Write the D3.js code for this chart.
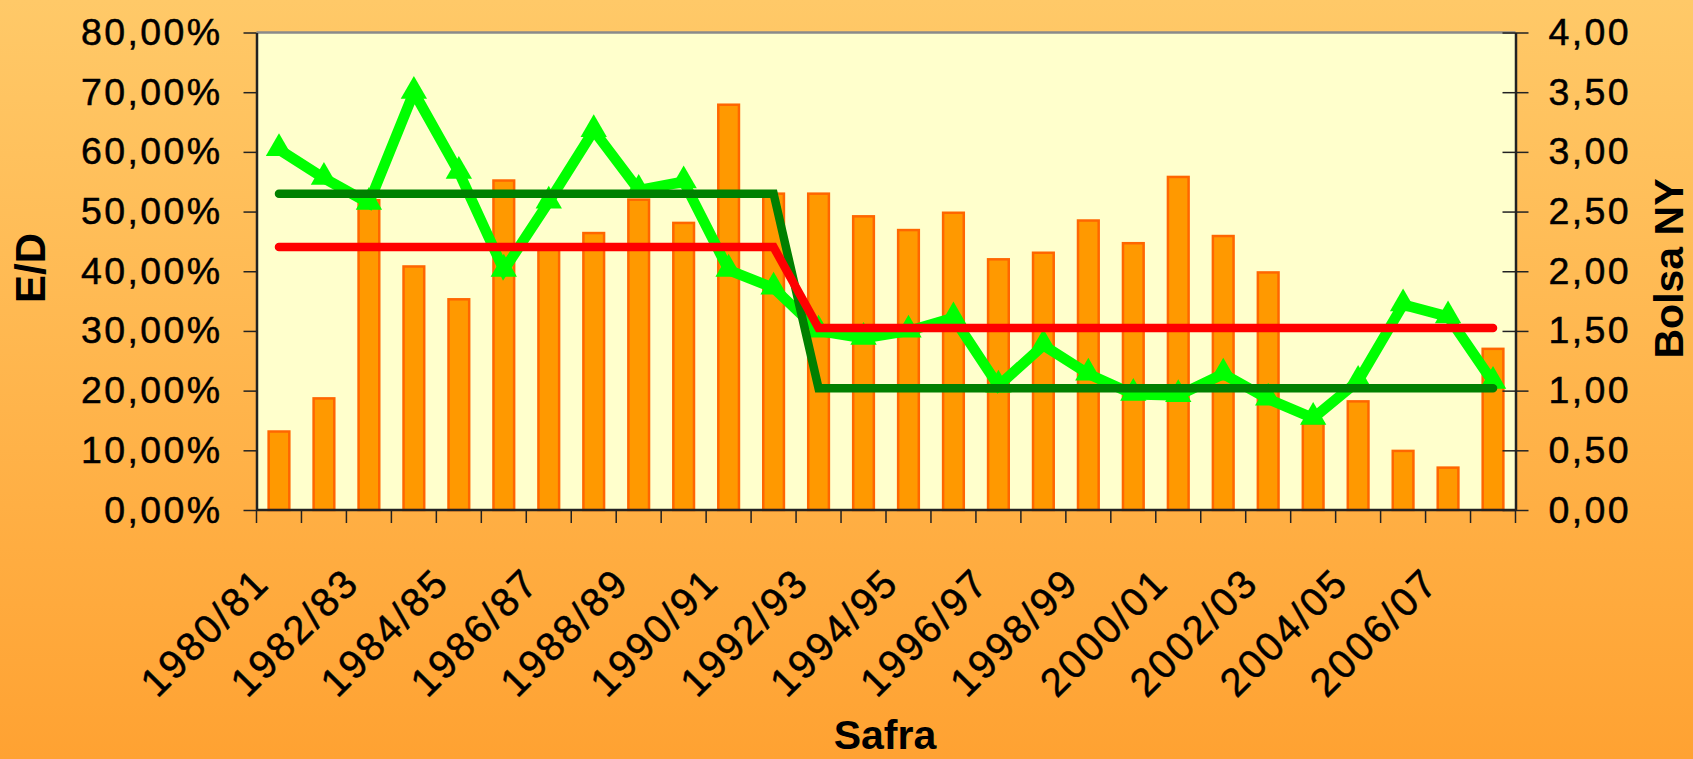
<!DOCTYPE html>
<html>
<head>
<meta charset="utf-8">
<script src="https://cdn.jsdelivr.net/npm/d3@7"></script>
<style>
  html, body { margin: 0; padding: 0; }
  svg text { font-family: "Liberation Sans", Arial, sans-serif; fill: #000; }
</style>
</head>
<body>
<div id="chart"></div>
<script>
// safras (categories)
var categories = ["1980/81","1981/82","1982/83","1983/84","1984/85","1985/86","1986/87",
  "1987/88","1988/89","1989/90","1990/91","1991/92","1992/93","1993/94","1994/95",
  "1995/96","1996/97","1997/98","1998/99","1999/00","2000/01","2001/02","2002/03",
  "2003/04","2004/05","2005/06","2006/07","2007/08"];
// E/D (bars, left axis)
var edValues = [0.1315,0.187,0.519,0.408,0.353,0.552,0.445,0.464,0.52,0.481,0.679,0.53,
  0.53,0.492,0.469,0.498,0.42,0.431,0.485,0.447,0.558,0.459,0.398,0.145,0.182,0.099,0.071,0.27];
// Bolsa NY (green line, right axis)
var bolsaValues = [3.02,2.78,2.57,3.50,2.83,2.01,2.58,3.18,2.68,2.75,2.01,1.86,
  1.50,1.44,1.50,1.61,1.04,1.38,1.14,0.97,0.96,1.14,0.93,0.77,1.08,1.72,1.62,1.07];
// period mean of Bolsa NY (dark green, right axis)
var bolsaMean = [2.65,2.65,2.65,2.65,2.65,2.65,2.65,2.65,2.65,2.65,2.65,2.65,
  1.02,1.02,1.02,1.02,1.02,1.02,1.02,1.02,1.02,1.02,1.02,1.02,1.02,1.02,1.02,1.02];
// period mean of E/D (red, left axis)
var edMean = [0.4405,0.4405,0.4405,0.4405,0.4405,0.4405,0.4405,0.4405,0.4405,0.4405,0.4405,0.4405,
  0.305,0.305,0.305,0.305,0.305,0.305,0.305,0.305,0.305,0.305,0.305,0.305,0.305,0.305,0.305,0.305];
// ticks
var leftTicks = [0,0.1,0.2,0.3,0.4,0.5,0.6,0.7,0.8];
var leftTickLabels = ["0,00%","10,00%","20,00%","30,00%","40,00%","50,00%","60,00%","70,00%","80,00%"];
var rightTicks = [0,0.5,1,1.5,2,2.5,3,3.5,4];
var rightTickLabels = ["0,00","0,50","1,00","1,50","2,00","2,50","3,00","3,50","4,00"];

var W = 1693, H = 759;
var plot = {left: 256.5, right: 1515.5, top: 32.5, bottom: 510};

var svg = d3.select("#chart").append("svg")
  .attr("width", W).attr("height", H);

// background gradient
var grad = svg.append("defs").append("linearGradient")
  .attr("id", "bg").attr("x1", 0).attr("y1", 0).attr("x2", 0).attr("y2", 1);
grad.append("stop").attr("offset", "0%").attr("stop-color", "#FFC968");
grad.append("stop").attr("offset", "100%").attr("stop-color", "#FFA232");
svg.append("rect").attr("width", W).attr("height", H).attr("fill", "url(#bg)");

// scales
var xScale = d3.scaleBand().domain(categories).range([plot.left, plot.right]);
var yLeft = d3.scaleLinear().domain([0, 0.8]).range([plot.bottom, plot.top]);
var yRight = d3.scaleLinear().domain([0, 4]).range([plot.bottom, plot.top]);
var bw = xScale.bandwidth();
var cx = function(i) { return xScale(categories[i]) + bw / 2; };

// plot area
svg.append("rect")
  .attr("x", plot.left).attr("y", plot.top)
  .attr("width", plot.right - plot.left).attr("height", plot.bottom - plot.top)
  .attr("fill", "#FFFFCC");
svg.append("line")
  .attr("x1", plot.left).attr("x2", plot.right)
  .attr("y1", plot.top).attr("y2", plot.top)
  .attr("stroke", "#8a8a8a").attr("stroke-width", 2.5);

// bars
var barW = bw * 0.46;
svg.selectAll(".bar")
  .data(edValues)
  .enter().append("rect")
  .attr("class", "bar")
  .attr("x", function(d, i) { return cx(i) - barW / 2; })
  .attr("width", barW)
  .attr("y", function(d) { return yLeft(d); })
  .attr("height", function(d) { return plot.bottom - yLeft(d); })
  .attr("fill", "#FF9900")
  .attr("stroke", "#FF6600")
  .attr("stroke-width", 2.5);

// line generators
var lineRight = d3.line()
  .x(function(d, i) { return cx(i); })
  .y(function(d) { return yRight(d); });
var lineLeft = d3.line()
  .x(function(d, i) { return cx(i); })
  .y(function(d) { return yLeft(d); });

// Bolsa NY line with triangle markers
svg.append("path")
  .attr("d", lineRight(bolsaValues))
  .attr("fill", "none")
  .attr("stroke", "#00FF00")
  .attr("stroke-width", 10.5)
  .attr("stroke-linejoin", "miter");
svg.selectAll(".marker")
  .data(bolsaValues)
  .enter().append("path")
  .attr("class", "marker")
  .attr("d", d3.symbol().type(d3.symbolTriangle).size(300))
  .attr("transform", function(d, i) { return "translate(" + cx(i) + "," + (yRight(d) - 1) + ")"; })
  .attr("fill", "#00FF00");

// period means
svg.append("path")
  .attr("d", lineRight(bolsaMean))
  .attr("fill", "none")
  .attr("stroke", "#008000")
  .attr("stroke-width", 8.5)
  .attr("stroke-linecap", "round");
svg.append("path")
  .attr("d", lineLeft(edMean))
  .attr("fill", "none")
  .attr("stroke", "#FF0000")
  .attr("stroke-width", 8.5)
  .attr("stroke-linecap", "round");

// left axis
var yAxisLeft = d3.axisLeft(yLeft)
  .tickValues(leftTicks)
  .tickFormat(function(d, i) { return leftTickLabels[i]; })
  .tickSize(13).tickSizeOuter(0).tickPadding(21);
var gl = svg.append("g")
  .attr("transform", "translate(" + plot.left + ",0)")
  .call(yAxisLeft);
gl.select(".domain").attr("stroke", "#222").attr("stroke-width", 2.5);
gl.selectAll(".tick line").attr("stroke", "#222").attr("stroke-width", 1.5);
gl.selectAll(".tick text")
  .attr("font-size", 37.5).attr("letter-spacing", 2.4)
  .attr("stroke", "#000").attr("stroke-width", 0.5)
  .attr("font-family", "Liberation Sans, Arial, sans-serif");

// right axis, ticks crossing the axis line
var yAxisRight = d3.axisRight(yRight)
  .tickValues(rightTicks)
  .tickFormat(function(d, i) { return rightTickLabels[i]; })
  .tickSize(13).tickSizeOuter(0).tickPadding(20);
var gr = svg.append("g")
  .attr("transform", "translate(" + plot.right + ",0)")
  .call(yAxisRight);
gr.select(".domain").attr("stroke", "#222").attr("stroke-width", 2.5);
gr.selectAll(".tick line").attr("x1", -13).attr("stroke", "#222").attr("stroke-width", 1.5);
gr.selectAll(".tick text")
  .attr("font-size", 37.5).attr("letter-spacing", 2.4)
  .attr("stroke", "#000").attr("stroke-width", 0.5)
  .attr("font-family", "Liberation Sans, Arial, sans-serif");

// bottom axis: line and ticks at category boundaries
svg.append("line")
  .attr("x1", plot.left).attr("x2", plot.right)
  .attr("y1", plot.bottom).attr("y2", plot.bottom)
  .attr("stroke", "#222").attr("stroke-width", 2.5);
svg.selectAll(".xtick")
  .data(categories.concat(["end"]))
  .enter().append("line")
  .attr("class", "xtick")
  .attr("x1", function(d, i) { return plot.left + i * xScale.step(); })
  .attr("x2", function(d, i) { return plot.left + i * xScale.step(); })
  .attr("y1", plot.bottom).attr("y2", plot.bottom + 13)
  .attr("stroke", "#222").attr("stroke-width", 1.5);

// category labels, every other one
svg.selectAll(".xlabel")
  .data(categories.filter(function(d, i) { return i % 2 === 0; }))
  .enter().append("text")
  .attr("class", "xlabel")
  .attr("transform", function(d) {
    return "translate(" + (xScale(d) + bw / 2 - 7.5) + ",585) rotate(-45)";
  })
  .attr("text-anchor", "end")
  .attr("font-size", 40)
  .attr("letter-spacing", 2.4)
  .attr("stroke", "#000").attr("stroke-width", 0.5)
  .text(function(d) { return d; });

// axis titles
svg.append("text")
  .attr("transform", "translate(45,268) rotate(-90)")
  .attr("text-anchor", "middle")
  .attr("font-size", 42).attr("font-weight", "bold")
  .text("E/D");
svg.append("text")
  .attr("transform", "translate(1683,268.5) rotate(-90)")
  .attr("text-anchor", "middle")
  .attr("font-size", 41).attr("font-weight", "bold")
  .text("Bolsa NY");
svg.append("text")
  .attr("x", 885).attr("y", 749)
  .attr("text-anchor", "middle")
  .attr("font-size", 41).attr("font-weight", "bold")
  .text("Safra");
</script>
</body>
</html>
